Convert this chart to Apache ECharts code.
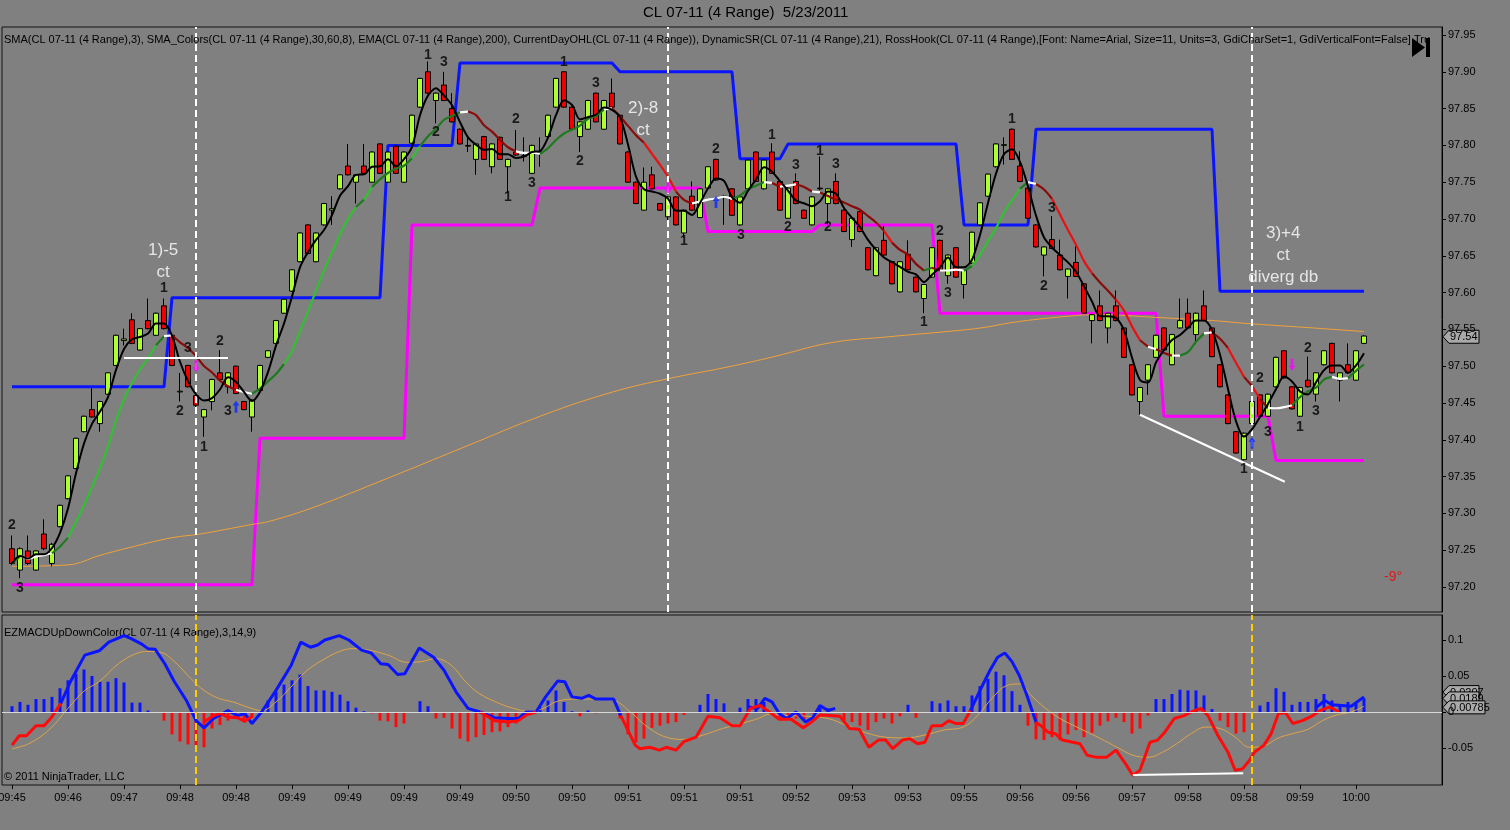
<!DOCTYPE html>
<html><head><meta charset="utf-8">
<script src="https://cdn.jsdelivr.net/npm/echarts@6.0.0/dist/echarts.min.js"></script>
<style>html,body{margin:0;padding:0;background:#808080;}#c{width:1510px;height:830px;}</style>
</head><body><div id="c"></div>
<script>
// ---------- DATA ----------
const tickLabels = ['09:45','09:46','09:47','09:48','09:48','09:49','09:49','09:49','09:49','09:50','09:50','09:51','09:51','09:51','09:52','09:53','09:53','09:55','09:56','09:56','09:57','09:58','09:58','09:59','10:00'];
const priceTicks = [97.20,97.25,97.30,97.35,97.40,97.45,97.50,97.55,97.60,97.65,97.70,97.75,97.80,97.85,97.90,97.95];
const macdTicks = [-0.05,0,0.05,0.1];
// [open, close, low, high]
const ohlc = [
[97.252,97.232,97.230,97.270],[97.223,97.252,97.212,97.254],[97.249,97.232,97.230,97.270],[97.223,97.249,97.222,97.250],
[97.272,97.252,97.250,97.292],[97.232,97.258,97.228,97.260],[97.282,97.311,97.281,97.312],[97.320,97.351,97.319,97.352],
[97.361,97.402,97.360,97.403],[97.411,97.432,97.410,97.433],[97.441,97.431,97.430,97.470],[97.422,97.452,97.411,97.453],
[97.462,97.491,97.461,97.492],[97.501,97.542,97.500,97.543],[97.535,97.537,97.528,97.551],[97.563,97.531,97.530,97.572],
[97.522,97.551,97.521,97.552],[97.562,97.551,97.550,97.592],[97.542,97.572,97.541,97.573],[97.582,97.551,97.550,97.592],
[97.542,97.501,97.500,97.543],[97.465,97.466,97.452,97.491],[97.501,97.472,97.471,97.502],[97.460,97.447,97.440,97.470],
[97.431,97.441,97.404,97.442],[97.452,97.482,97.440,97.483],[97.491,97.482,97.481,97.522],[97.472,97.491,97.463,97.492],
[97.500,97.463,97.462,97.501],[97.452,97.441,97.440,97.453],[97.431,97.454,97.411,97.455],[97.467,97.501,97.466,97.502],
[97.512,97.521,97.511,97.522],[97.531,97.562,97.530,97.563],[97.572,97.591,97.571,97.592],[97.602,97.631,97.601,97.632],
[97.642,97.681,97.641,97.682],[97.692,97.653,97.652,97.693],[97.642,97.681,97.641,97.682],[97.692,97.721,97.691,97.722],
[97.712,97.714,97.692,97.731],[97.741,97.760,97.740,97.761],[97.772,97.760,97.759,97.802],[97.750,97.760,97.721,97.761],
[97.772,97.762,97.761,97.802],[97.750,97.791,97.749,97.792],[97.802,97.762,97.761,97.803],[97.750,97.791,97.749,97.792],
[97.799,97.762,97.761,97.800],[97.750,97.791,97.749,97.792],[97.803,97.841,97.802,97.842],[97.852,97.891,97.851,97.892],
[97.900,97.871,97.870,97.914],[97.861,97.871,97.830,97.872],[97.882,97.861,97.860,97.900],[97.850,97.832,97.831,97.871],
[97.822,97.802,97.801,97.823],[97.800,97.799,97.791,97.812],[97.781,97.802,97.760,97.803],[97.812,97.781,97.780,97.813],
[97.771,97.802,97.762,97.803],[97.811,97.781,97.780,97.812],[97.771,97.781,97.735,97.782],[97.791,97.787,97.786,97.821],
[97.785,97.786,97.778,97.811],[97.762,97.800,97.761,97.801],[97.790,97.791,97.771,97.811],[97.812,97.841,97.811,97.842],
[97.852,97.891,97.851,97.892],[97.900,97.852,97.851,97.901],[97.852,97.822,97.821,97.853],[97.812,97.832,97.791,97.833],
[97.822,97.861,97.821,97.862],[97.871,97.832,97.831,97.872],[97.822,97.861,97.821,97.862],[97.871,97.852,97.851,97.891],
[97.841,97.802,97.801,97.842],[97.791,97.750,97.749,97.792],[97.750,97.721,97.720,97.751],[97.712,97.750,97.711,97.770],
[97.760,97.741,97.740,97.771],[97.721,97.712,97.711,97.722],[97.703,97.730,97.690,97.731],[97.730,97.692,97.691,97.731],
[97.681,97.712,97.675,97.713],[97.731,97.712,97.711,97.751],[97.702,97.741,97.701,97.742],[97.742,97.771,97.741,97.772],
[97.781,97.753,97.752,97.782],[97.730,97.731,97.692,97.733],[97.741,97.705,97.704,97.742],[97.692,97.730,97.691,97.731],
[97.741,97.780,97.740,97.781],[97.791,97.751,97.750,97.792],[97.741,97.780,97.740,97.781],[97.791,97.762,97.761,97.803],
[97.751,97.712,97.711,97.752],[97.701,97.742,97.700,97.743],[97.751,97.721,97.720,97.762],[97.712,97.701,97.700,97.713],
[97.692,97.730,97.691,97.731],[97.742,97.741,97.739,97.785],[97.721,97.741,97.692,97.742],[97.751,97.721,97.720,97.762],
[97.712,97.683,97.682,97.713],[97.672,97.701,97.662,97.702],[97.710,97.683,97.682,97.711],[97.661,97.631,97.630,97.662],
[97.623,97.661,97.622,97.662],[97.671,97.651,97.650,97.690],[97.642,97.612,97.611,97.643],[97.601,97.642,97.600,97.643],
[97.652,97.631,97.630,97.671],[97.621,97.601,97.600,97.622],[97.592,97.611,97.572,97.612],[97.621,97.661,97.620,97.662],
[97.671,97.631,97.630,97.672],[97.623,97.651,97.612,97.652],[97.661,97.621,97.620,97.662],[97.611,97.631,97.592,97.632],
[97.640,97.682,97.639,97.683],[97.692,97.722,97.691,97.723],[97.731,97.761,97.730,97.762],[97.771,97.802,97.770,97.803],
[97.800,97.801,97.774,97.811],[97.822,97.781,97.780,97.823],[97.772,97.751,97.750,97.792],[97.742,97.701,97.700,97.743],
[97.692,97.662,97.661,97.693],[97.651,97.662,97.622,97.663],[97.672,97.660,97.659,97.704],[97.651,97.631,97.630,97.672],
[97.622,97.632,97.592,97.633],[97.641,97.622,97.621,97.663],[97.612,97.572,97.571,97.613],[97.562,97.570,97.531,97.571],
[97.582,97.562,97.561,97.603],[97.552,97.572,97.531,97.573],[97.582,97.562,97.561,97.603],[97.552,97.512,97.511,97.553],
[97.502,97.461,97.460,97.503],[97.452,97.471,97.434,97.472],[97.481,97.502,97.461,97.503],[97.512,97.542,97.511,97.543],
[97.552,97.522,97.521,97.553],[97.502,97.543,97.501,97.544],[97.552,97.562,97.551,97.592],[97.572,97.552,97.551,97.592],
[97.543,97.572,97.530,97.573],[97.582,97.562,97.561,97.603],[97.552,97.513,97.512,97.553],[97.502,97.472,97.471,97.503],
[97.461,97.422,97.421,97.462],[97.411,97.382,97.381,97.412],[97.373,97.409,97.372,97.410],[97.422,97.452,97.421,97.453],
[97.461,97.432,97.431,97.462],[97.432,97.462,97.431,97.463],[97.472,97.512,97.471,97.513],[97.521,97.484,97.483,97.522],
[97.472,97.442,97.441,97.473],[97.432,97.471,97.431,97.472],[97.481,97.472,97.471,97.513],[97.462,97.491,97.452,97.492],
[97.502,97.521,97.501,97.522],[97.531,97.491,97.490,97.532],[97.481,97.491,97.452,97.492],[97.502,97.491,97.490,97.531],
[97.481,97.521,97.480,97.522],[97.531,97.541,97.530,97.542]
];
// EMA(200): [bar, price]
const emaPts = [[0,97.228],[7,97.230],[11,97.243],[15.2,97.255],[20,97.267],[23.5,97.272],[30,97.285],[32.1,97.289],[37.9,97.309],[48.6,97.355],[56.5,97.390],[66.5,97.434],[75.1,97.465],[82,97.483],[89.5,97.499],[95.25,97.513],[102.4,97.532],[109.6,97.540],[116.75,97.547],[121.1,97.552],[125.4,97.560],[131.1,97.567],[135.5,97.570],[143.5,97.566],[150.1,97.562],[154.4,97.558],[158.5,97.555],[162.6,97.552],[169,97.547]];
// DynamicSR step lines: [bar, price]
const resistance = [[0,97.472],[19,97.472],[20,97.593],[46,97.593],[47,97.800],[55,97.800],[56,97.912],[75,97.912],[76,97.900],[90,97.900],[91,97.782],[96,97.782],[97,97.802],[118,97.802],[119,97.692],[127,97.692],[128,97.822],[150,97.822],[151,97.602],[169,97.602]];
const support = [[0,97.203],[30,97.203],[31,97.402],[49,97.402],[50,97.692],[65,97.692],[66,97.742],[86,97.742],[87,97.683],[100,97.683],[101,97.692],[115,97.692],[116,97.572],[143,97.572],[144,97.432],[157,97.432],[158,97.372],[169,97.372]];
const hookLine = [[14,97.511],[27,97.511]];
const trendLine = [[141,97.434],[159.1,97.343]];
const macdDivLine = [[140.1,-0.0875],[153.9,-0.085]];
const dashedBars = [23,82,155];
const yellowBars = [23,155];
// MACD line runs (colour, points)
const macdBlueRuns = [
 [[6.1,0.012],[7.3,0.042],[9.1,0.079],[10.9,0.085],[12.1,0.097],[14,0.106],[14.9,0.102],[16.1,0.095],[17,0.088],[17.9,0.087],[19.1,0.067],[20.3,0.042],[21.8,0.016],[23,-0.012],[24,-0.022],[25.2,-0.009],[27,0.002],[28.2,-0.005],[29.1,-0.002],[30,-0.016],[31.2,0],[33,0.030],[34.9,0.065],[36.1,0.097],[37.3,0.090],[38.2,0.093],[39.1,0.100],[40.9,0.106],[42.1,0.100],[43.7,0.086],[44.9,0.082],[46.1,0.067],[47,0.066],[48.2,0.052],[49.1,0.053],[50.9,0.089],[52.7,0.076],[54,0.058],[55.5,0.028],[57,0.005],[58.5,0],[60.3,-0.008],[62.1,-0.009],[63.3,-0.009],[64.3,0],[65.5,0],[66.7,0.021],[68.2,0.043],[69.1,0.042],[70,0.021],[71.2,0.019],[72.1,0.023],[73,0.018],[74.3,0.018],[75.2,0.018],[76.1,-0.005]],
 [[92.1,0.007],[93.2,0.005],[94.1,0.019],[95,0.014],[95.9,-0.002],[96.8,-0.009],[98,0],[99.2,-0.014],[100.1,-0.008],[101,0.009],[102,0.002],[102.9,0.005]],
 [[119.8,0.002],[121,0.030],[122.25,0.058],[123.2,0.076],[124.1,0.082],[125,0.070],[125.9,0.051],[126.8,0.025],[128,-0.014]],
 [[162.9,0.005],[164.1,0.016],[165,0.010],[166.2,0.009],[167.4,0.008],[169,0.021]]
];
const macdRedRuns = [
 [[0,-0.046],[0.9,-0.033],[1.8,-0.033],[3,-0.019],[4,-0.019],[4.9,-0.008],[6.1,0.012]],
 [[24,-0.014],[25.2,-0.005],[26,-0.002],[27,-0.007],[28.2,-0.008],[29.1,-0.013],[30,-0.006]],
 [[58.5,0],[60.3,-0.012],[62.1,-0.014],[63.3,-0.012],[64.3,-0.004],[65.5,0]],
 [[76.1,-0.005],[77.9,-0.046],[78.5,-0.051],[79.7,-0.049],[80.9,-0.053],[81.8,-0.049],[83,-0.053],[84,-0.041],[85.5,-0.035],[87,-0.006],[88.5,-0.008],[90,-0.019],[91,-0.019],[92.3,0.005],[93.5,0.009],[94.7,0],[95.9,-0.010],[97.4,-0.010],[98.9,-0.022],[99.8,-0.015],[101,-0.004],[102.3,-0.005],[103.5,-0.006],[104.7,-0.023],[105.9,-0.024],[107.1,-0.049],[108.3,-0.039],[109.2,-0.039],[110.1,-0.051],[111.3,-0.039],[112.25,-0.037],[113.2,-0.044],[114.1,-0.042],[115,-0.019],[116.2,-0.019],[117.1,-0.012],[118,-0.016],[118.9,-0.016],[119.8,0.002]],
 [[128,-0.014],[128.6,-0.019],[129.5,-0.028],[130.4,-0.030],[131.3,-0.039],[132.6,-0.042],[133.5,-0.044],[134.4,-0.060],[135.6,-0.063],[136.8,-0.063],[138,-0.053],[139.2,-0.072],[140.1,-0.088],[141,-0.081],[142.25,-0.042],[143.2,-0.039],[144.1,-0.028],[145.3,-0.009],[146.5,-0.005],[147.4,0],[148.6,0.005],[149.5,-0.005],[150.7,-0.032],[152,-0.056],[152.9,-0.081],[153.8,-0.079],[154.7,-0.067],[155.3,-0.056],[156.5,-0.046],[157.4,-0.030],[158.3,-0.002],[159.2,-0.001],[160.1,-0.016],[161.3,-0.012],[162.6,-0.005],[163.5,0.002],[164.7,0.007],[165.9,0]]
];
const signalPts = [[0,-0.051],[2.1,-0.044],[4.6,-0.025],[7,0.005],[9.1,0.030],[10.9,0.042],[13.3,0.067],[15.5,0.081],[17,0.084],[18.5,0.083],[20.3,0.070],[22.4,0.046],[24,0.030],[25.8,0.019],[27.6,0.014],[29.4,0.007],[31.2,0.002],[33,0.014],[34.9,0.035],[36.7,0.056],[38.5,0.070],[40.9,0.084],[42.7,0.088],[44.6,0.086],[47,0.079],[49.4,0.069],[51.2,0.070],[53,0.074],[54.9,0.065],[56.7,0.042],[58.5,0.025],[60.9,0.012],[62.7,0.005],[64.6,0.001],[66.4,0.005],[68.2,0.015],[70.6,0.018],[73,0.018],[75.2,0.016],[77.3,0],[79.7,-0.023],[82.1,-0.036],[84,-0.038],[86.4,-0.032],[88.8,-0.023],[91.2,-0.016],[93.3,-0.009],[94.7,-0.003],[97.1,-0.005],[99.5,-0.006],[102,-0.009],[104.4,-0.019],[106.8,-0.029],[109.2,-0.035],[111.6,-0.036],[114.1,-0.032],[116.5,-0.025],[118.9,-0.021],[120.7,-0.005],[122.5,0.019],[124.4,0.037],[125.9,0.039],[127.4,0.023],[129.2,0.005],[131,-0.009],[133.5,-0.023],[135.9,-0.036],[138.3,-0.050],[140.1,-0.060],[142,-0.063],[143.8,-0.056],[145.6,-0.044],[147.4,-0.030],[149.2,-0.021],[151,-0.023],[152.9,-0.035],[154.7,-0.049],[156.5,-0.047],[158.3,-0.036],[160.1,-0.030],[162,-0.024],[163.8,-0.012],[165.6,-0.004],[167.4,0],[169,0.008]];
const histogram = [0.008,0.014,0.010,0.018,0.018,0.021,0.033,0.044,0.053,0.059,0.050,0.042,0.042,0.047,0.041,0.013,0.013,0.002,0.000,-0.012,
-0.031,-0.041,-0.045,-0.046,-0.049,-0.023,-0.018,-0.012,-0.008,-0.014,-0.008,0.000,0.016,0.028,0.038,0.044,0.052,0.036,0.030,0.030,
0.028,0.024,0.015,0.006,0.001,-0.002,-0.012,-0.013,-0.021,-0.016,0.000,0.015,0.008,-0.009,-0.008,-0.023,-0.037,-0.041,-0.035,-0.032,
-0.028,-0.027,-0.021,-0.016,-0.008,-0.002,0.007,0.016,0.030,0.014,0.001,-0.006,0.002,-0.002,-0.001,0.000,-0.009,-0.031,-0.042,-0.037,
-0.022,-0.019,-0.016,-0.014,-0.004,0.000,0.010,0.025,0.018,0.012,0.000,0.006,0.018,0.018,0.014,0.000,-0.008,-0.004,-0.009,-0.012,
-0.002,0.006,0.005,0.000,-0.012,-0.014,-0.019,-0.025,-0.014,-0.009,-0.016,-0.006,0.010,-0.008,-0.001,0.015,0.012,0.016,0.008,0.008,
0.023,0.036,0.046,0.056,0.051,0.029,0.010,-0.019,-0.038,-0.039,-0.035,-0.039,-0.031,-0.025,-0.035,-0.029,-0.019,-0.013,-0.008,-0.014,
-0.030,-0.023,-0.005,0.018,0.018,0.025,0.031,0.030,0.030,0.023,0.004,-0.012,-0.021,-0.030,-0.028,0.000,0.009,0.014,0.033,0.028,
0.010,0.014,0.014,0.018,0.025,0.016,0.009,0.014,0.012,0.019];
// swing-count labels: [bar, price, text]
const swingLabels = [[0,97.284,'2'],[1,97.199,'3'],[19,97.606,'1'],[22,97.525,'3'],[21,97.439,'2'],[24,97.390,'1'],[26,97.534,'2'],[27,97.439,'3'],
[52,97.923,'1'],[54,97.913,'3'],[53,97.818,'2'],[63,97.835,'2'],[62,97.730,'1'],[65,97.749,'3'],[69,97.913,'1'],[73,97.885,'3'],[71,97.779,'2'],
[88,97.795,'2'],[84,97.670,'1'],[91.1,97.678,'3'],[95,97.814,'1'],[98,97.773,'3'],[101,97.792,'1'],[103,97.775,'3'],[97,97.689,'2'],[102,97.689,'2'],
[116,97.684,'2'],[114,97.560,'1'],[117,97.599,'3'],[125,97.835,'1'],[130,97.715,'3'],[129,97.609,'2'],
[156,97.484,'2'],[157,97.411,'3'],[154,97.360,'1'],[161,97.417,'1'],[162,97.525,'2'],[163,97.439,'3']];
const notes = [[18.9,97.643,'1)-5\nct'],[78.9,97.836,'2)-8\nct'],[158.9,97.650,'3)+4\nct\ndiverg db']];
const arrows = [[23,97.500,'down'],[28,97.445,'up'],[82,97.742,'down'],[88,97.723,'up'],[155,97.396,'up'],[160,97.502,'down']];
const lastPrice = 97.54;
const macdLast = [['0.0207',0.0207],['0.0189',0.0189],['0.00785',0.00785]];
const indicatorText = 'SMA(CL 07-11 (4 Range),3), SMA_Colors(CL 07-11 (4 Range),30,60,8), EMA(CL 07-11 (4 Range),200), CurrentDayOHL(CL 07-11 (4 Range)), DynamicSR(CL 07-11 (4 Range),21), RossHook(CL 07-11 (4 Range),[Font: Name=Arial, Size=11, Units=3, GdiCharSet=1, GdiVerticalFont=False],True)';

// ---------- CHART ----------
const FONT = 'Liberation Sans, Arial, sans-serif';
const chart = echarts.init(document.getElementById('c'), null, {renderer:'canvas'});
const closes = ohlc.map(d => d[1]);
function sma(period){
  return closes.map((_, i) => { const s = Math.max(0, i - period + 1); let sum = 0; for (let k = s; k <= i; k++) sum += closes[k]; return sum / (i - s + 1); });
}
const sma3 = sma(3), sma8 = sma(8);
function slopeColor(sl){
  const a = Math.abs(sl);
  if (a < 0.0035) return '#ffffff';
  if (sl > 0) return a < 0.014 ? '#1f7a1f' : '#32c032';
  return a < 0.014 ? '#8b0b0b' : '#e81212';
}
const colorRuns = [];
for (let i = 1; i < sma8.length; i++){
  const c = slopeColor(sma8[i] - sma8[i-1]);
  const last = colorRuns[colorRuns.length - 1];
  if (last && last.color === c) last.pts.push([i, sma8[i]]);
  else colorRuns.push({color:c, pts:[[i-1, sma8[i-1]], [i, sma8[i]]]});
}
const XMIN = -1.25, XMAX = 178.75;
const tickIdx = tickLabels.map((_, j) => j * 7);
const lineS = (data, color, width, gi, extra) => Object.assign({type:'line', xAxisIndex:gi, yAxisIndex:gi, data, symbol:'none', silent:true, lineStyle:{color, width}, z:3}, extra || {});

const series = [];
series.push(lineS(resistance, '#0a14ff', 3, 0, {z:2}));
series.push(lineS(support, '#ff00ff', 3, 0, {z:2}));
series.push(lineS(emaPts, '#f2a23a', 1, 0, {smooth:0.4, z:2,
  markLine:{symbol:'none', silent:true, label:{show:false}, lineStyle:{color:'#ffffff', width:2, type:[7,4]}, data: dashedBars.map(b => ({xAxis:b}))}}));
series.push({type:'candlestick', xAxisIndex:0, yAxisIndex:0, barWidth:6, z:3, silent:true,
  data: ohlc.map((d, i) => [i, d[0], d[1], d[2], d[3]]),
  itemStyle:{color:'#adff2f', color0:'#f00000', borderColor:'#000000', borderColor0:'#000000', borderWidth:1}});
colorRuns.forEach(r => series.push(lineS(r.pts, r.color, 2.2, 0, {smooth:0.3, z:4})));
series.push(lineS(sma3.map((v, i) => [i, v]), '#000000', 2, 0, {smooth:0.3, z:5}));
series.push(lineS(hookLine, '#ffffff', 2, 0, {z:5}));
series.push(lineS(trendLine, '#ffffff', 2, 0, {z:5}));
series.push({type:'scatter', xAxisIndex:0, yAxisIndex:0, silent:true, z:6,
  symbol:'path://M3,0 L6,4.5 L4.2,4.5 L4.2,11 L1.8,11 L1.8,4.5 L0,4.5 Z', symbolSize:[7,12],
  data: arrows.map(a => ({value:[a[0], a[1]], symbolRotate: a[2] === 'down' ? 180 : 0, itemStyle:{color: a[2] === 'down' ? '#ff00ff' : '#0a28ff'}}))});
series.push({type:'scatter', xAxisIndex:0, yAxisIndex:0, silent:true, z:7, symbolSize:1, itemStyle:{color:'rgba(0,0,0,0)'},
  data: swingLabels.map(d => ({value:[d[0], d[1]], name:d[2]})),
  label:{show:true, position:'inside', formatter:'{b}', color:'#000', fontFamily:FONT, fontWeight:'bold', fontSize:14}});
series.push({type:'scatter', xAxisIndex:0, yAxisIndex:0, silent:true, z:7, symbolSize:1, itemStyle:{color:'rgba(0,0,0,0)'},
  data: notes.map(d => ({value:[d[0], d[1]], name:d[2]})),
  label:{show:true, position:'inside', formatter:'{b}', color:'#ffffff', fontFamily:FONT, fontSize:17, lineHeight:22, align:'center'}});
// MACD panel
series.push({type:'bar', xAxisIndex:1, yAxisIndex:1, barWidth:3, silent:true, z:2,
  data: histogram.map((v, i) => [i, v]),
  itemStyle:{color: p => p.value[1] >= 0 ? '#0a14ff' : '#ff0a0a'}});
series.push(lineS(signalPts, '#e0a448', 1, 1, {smooth:0.4, z:3,
  markLine:{symbol:'none', silent:true, label:{show:false}, data:[{yAxis:0, lineStyle:{color:'#d9d9d9', width:1, type:'solid'}}].concat(
    yellowBars.map(b => ({xAxis:b, lineStyle:{color:'#ffcc00', width:2, type:[7,4]}})))}}));
macdBlueRuns.forEach(r => series.push(lineS(r, '#0a14ff', 3, 1, {z:4})));
macdRedRuns.forEach(r => series.push(lineS(r, '#ff0a0a', 3, 1, {z:4})));
series.push(lineS(macdDivLine, '#ffffff', 2, 1, {z:5}));

const axisLabelBase = {color:'#000', fontFamily:FONT, fontSize:11};
const gridBase = {left:2, width:1440, show:true, borderColor:'#151515', borderWidth:1, backgroundColor:'rgba(0,0,0,0)', containLabel:false, outerBoundsMode:'none'};
chart.setOption({
  animation:false,
  backgroundColor:'#808080',
  grid:[
    Object.assign({top:27, height:585}, gridBase),
    Object.assign({top:615, height:170}, gridBase)
  ],
  xAxis:[
    {type:'value', gridIndex:0, min:XMIN, max:XMAX, show:false, axisLine:{onZero:false}},
    {type:'value', gridIndex:1, min:XMIN, max:XMAX, splitLine:{show:false}, axisLine:{show:false, onZero:false},
      axisTick:{show:true, customValues:tickIdx, length:4, lineStyle:{color:'#000'}},
      axisLabel:Object.assign({show:true, customValues:tickIdx, margin:7, formatter: v => tickLabels[Math.round(v / 7)]}, axisLabelBase)}
  ],
  yAxis:[
    {type:'value', gridIndex:0, position:'right', min:97.16603, max:97.96087, splitLine:{show:false},
      axisLine:{show:true, onZero:false, lineStyle:{color:'#000'}},
      axisTick:{show:true, customValues:priceTicks, length:4, lineStyle:{color:'#000'}},
      axisLabel:Object.assign({customValues:priceTicks, margin:6, formatter: v => v.toFixed(2)}, axisLabelBase)},
    {type:'value', gridIndex:1, position:'right', min:-0.10139, max:0.13472, splitLine:{show:false},
      axisLine:{show:true, onZero:false, lineStyle:{color:'#000'}},
      axisTick:{show:true, customValues:macdTicks, length:4, lineStyle:{color:'#000'}},
      axisLabel:Object.assign({customValues:macdTicks, margin:6, formatter: v => String(+v.toFixed(2))}, axisLabelBase)}
  ],
  series
});

// overlay texts and value boxes (positions from the chart's own scales)
function arrowBox(x0, y, text, w){
  return {type:'group', x:x0, y:y, z:100, children:[
    {type:'polygon', shape:{points:[[0,0],[6,-6.5],[w,-6.5],[w,6.5],[6,6.5]]}, style:{fill:'#a9a9a9', stroke:'#000', lineWidth:1}},
    {type:'text', x:7, y:0.5, style:{text, font:'11px ' + FONT, fill:'#000', verticalAlign:'middle'}}]};
}
const axisX = chart.convertToPixel({gridIndex:0}, [XMAX, lastPrice])[0] + 1;
const yLast = chart.convertToPixel({yAxisIndex:0}, lastPrice);
const gr = [
  {type:'text', left:643, top:5, style:{text:'CL 07-11 (4 Range)  5/23/2011', font:'15px ' + FONT, fill:'#000'}},
  {type:'text', left:4, top:34, z:50, style:{text:indicatorText, font:'11px ' + FONT, fill:'#000', width:1430, overflow:'truncate', ellipsis:''}},
  {type:'text', left:4, top:627, style:{text:'EZMACDUpDownColor(CL 07-11 (4 Range),3,14,9)', font:'11px ' + FONT, fill:'#000'}},
  {type:'text', left:4, top:771, style:{text:'\u00a9 2011 NinjaTrader, LLC', font:'11px ' + FONT, fill:'#000'}},
  {type:'text', left:1384, top:570, style:{text:'-9\u00b0', font:'14px ' + FONT, fill:'#e01818'}},
  {type:'polygon', z:60, shape:{points:[[1412,38],[1412,57],[1425,47.5]]}, style:{fill:'#000'}},
  {type:'rect', z:60, shape:{x:1426, y:38, width:4, height:19}, style:{fill:'#000'}},
  arrowBox(axisX, yLast, '97.54', 36)
];
const mOff = [-5, 0, 1];
const mW = [36, 36, 42];
macdLast.forEach((m, k) => {
  const y = chart.convertToPixel({yAxisIndex:1}, m[1]) + mOff[k];
  gr.push(arrowBox(axisX, y, m[0], mW[k]));
});
chart.setOption({graphic: gr});
</script>
</body></html>
